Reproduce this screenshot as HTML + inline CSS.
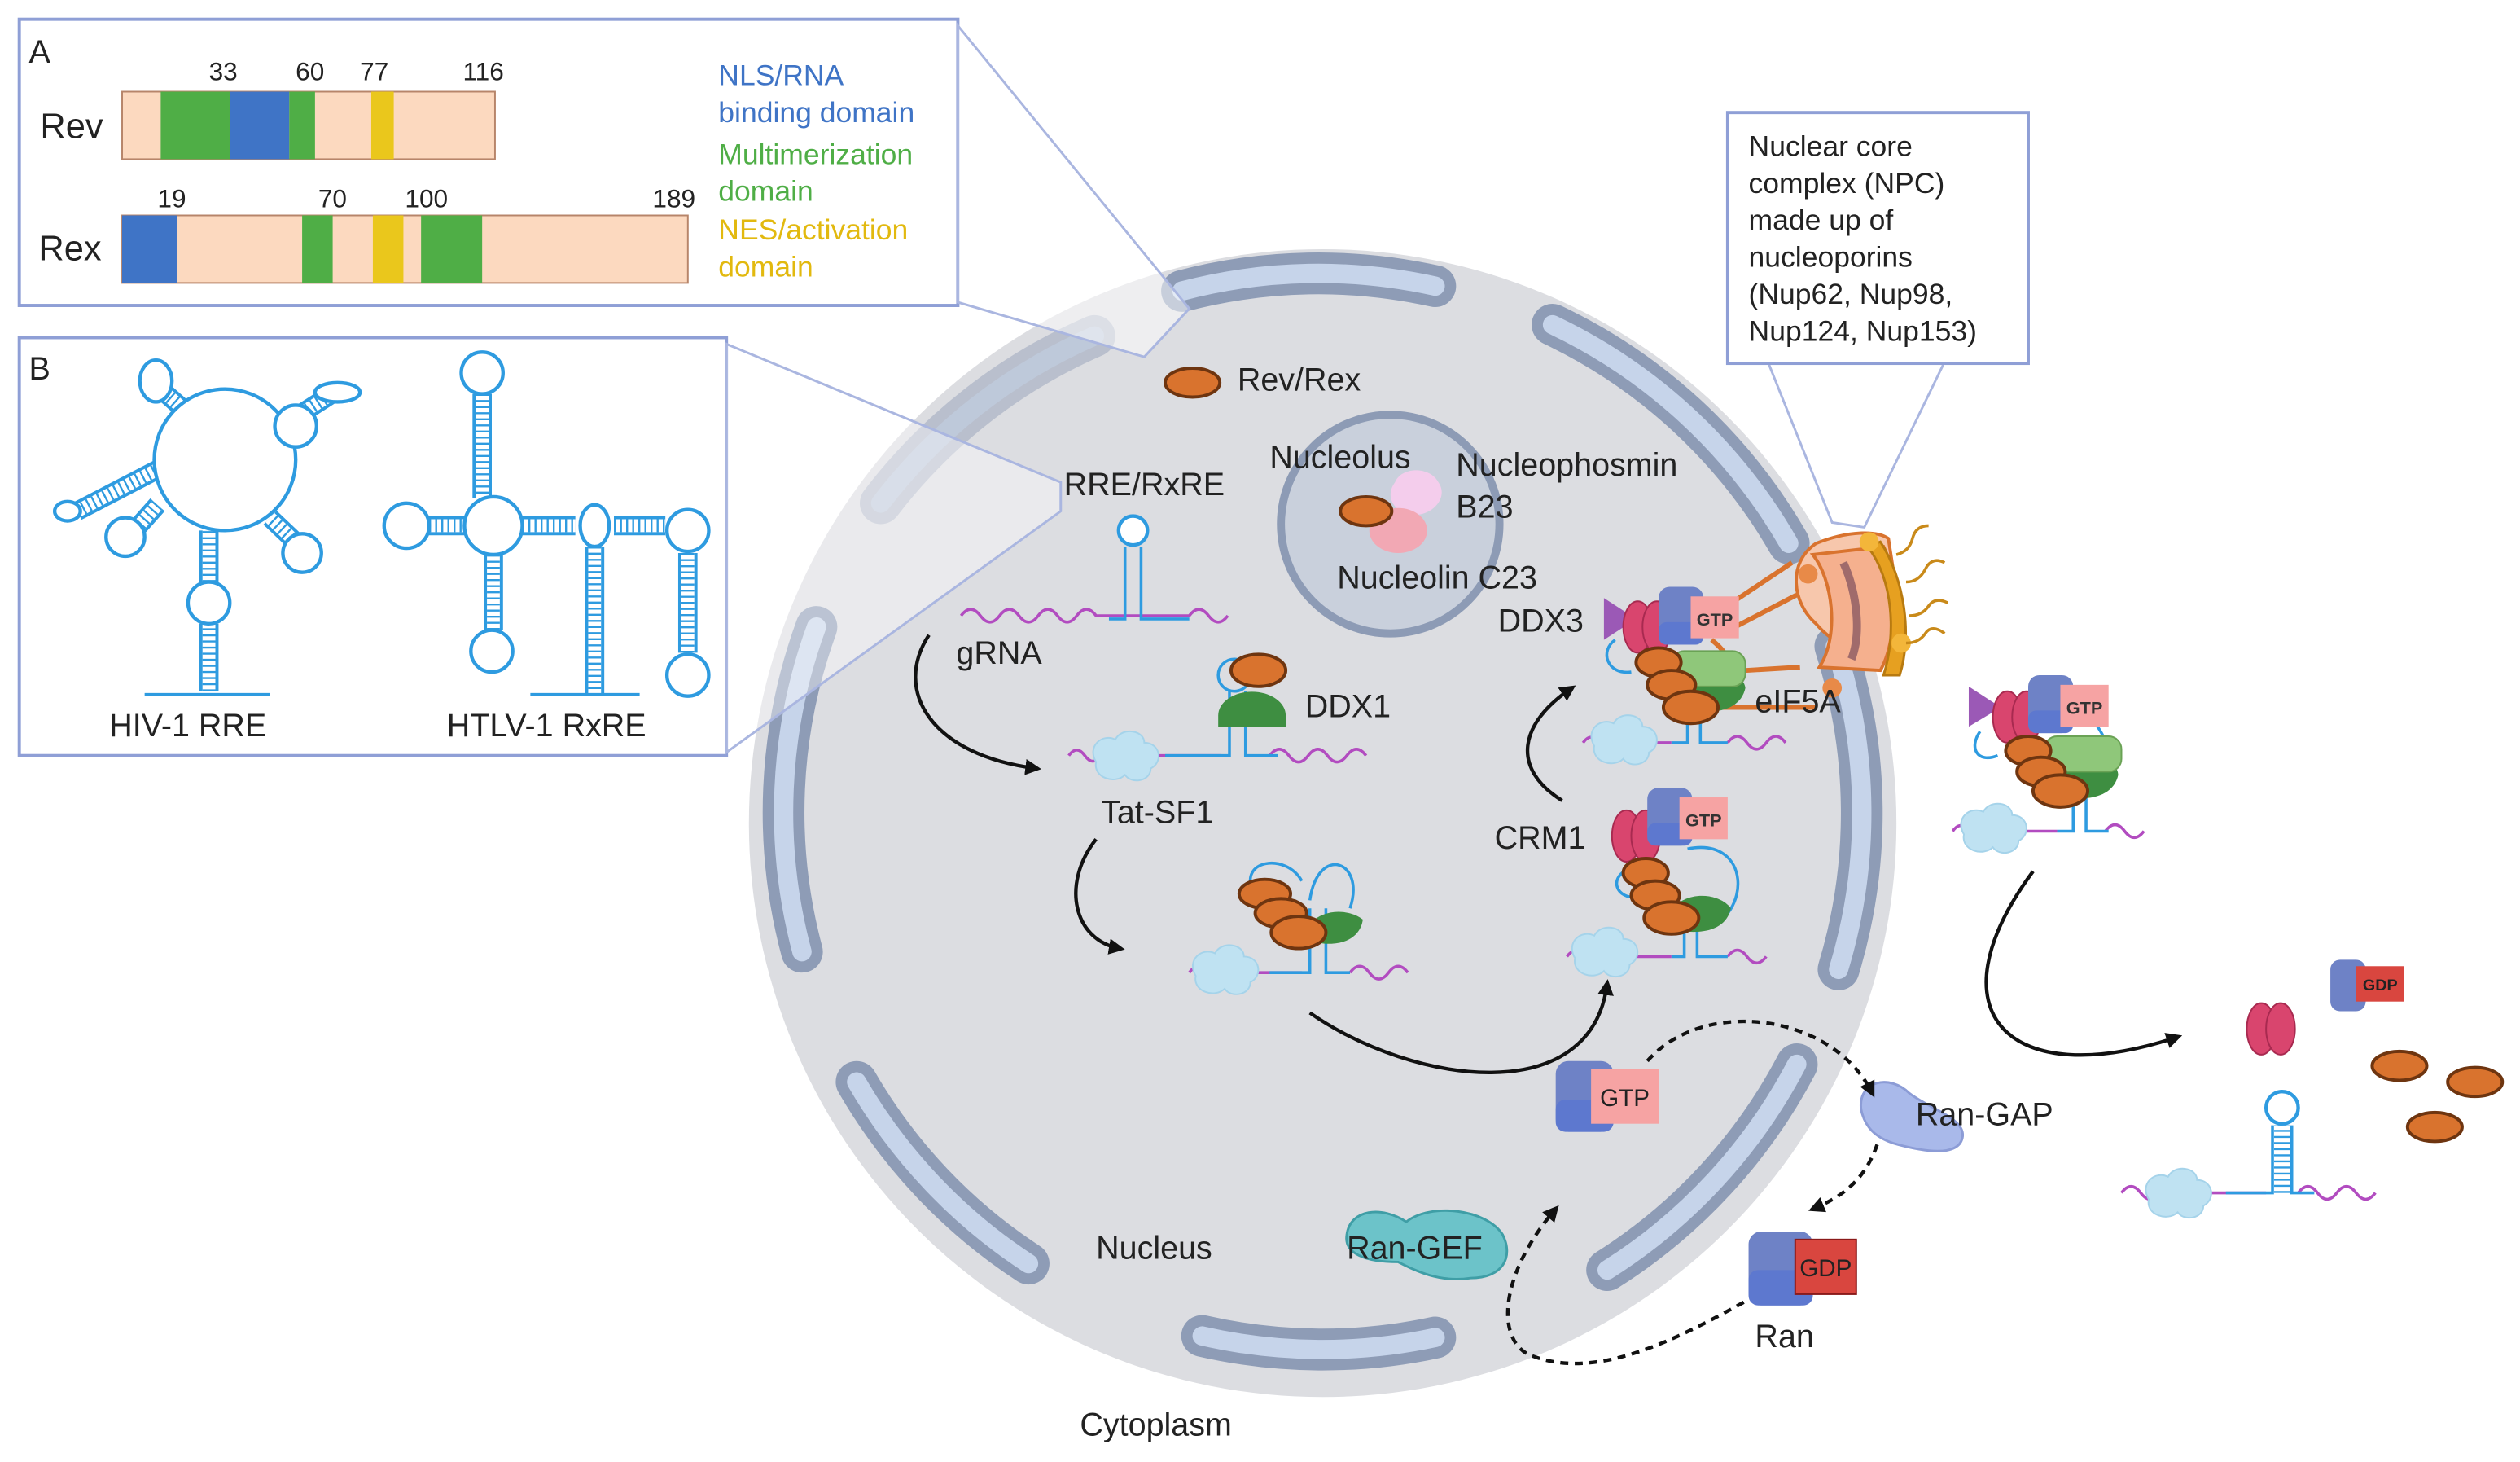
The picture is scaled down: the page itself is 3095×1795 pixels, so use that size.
<!DOCTYPE html>
<html><head><meta charset="utf-8"><style>
html,body{margin:0;padding:0;background:#fff}
svg{display:block}
text{font-family:"Liberation Sans",sans-serif;fill:#222}
.so{fill:none;stroke:#2e9be0;stroke-width:12}
.si{fill:none;stroke:#fff;stroke-width:8}
.sr{fill:none;stroke:#2e9be0;stroke-width:8;stroke-dasharray:1.2 2.6}
.lp{fill:#fff;stroke:#2e9be0;stroke-width:2.2}
.env{fill:none;stroke:#8e9cb6;stroke-width:26;stroke-linecap:round}
.envi{fill:none;stroke:#c6d4ea;stroke-width:12;stroke-linecap:round}
.wave{fill:none;stroke:#b24cc0;stroke-width:1.8}
.bl{fill:none;stroke:#2e9be0;stroke-width:1.8}
.or{fill:#d9732e;stroke:#6e3510;stroke-width:2}
.arr{fill:none;stroke:#111;stroke-width:2.2}
.dash{fill:none;stroke:#111;stroke-width:2.2;stroke-dasharray:5 4}
</style></head><body>
<svg width="3095" height="1795" viewBox="0 0 1568 909.4" preserveAspectRatio="none" xmlns="http://www.w3.org/2000/svg">
<defs>
<marker id="ah" markerWidth="10" markerHeight="10" refX="7" refY="5" orient="auto" markerUnits="userSpaceOnUse"><path d="M0,0 L10,5 L0,10 Z" fill="#111"/></marker>
<g id="cloud"><path d="M-18,4 C-24,-6 -14,-14 -6,-10 C-2,-18 12,-16 12,-8 C22,-8 24,4 16,8 C16,16 4,18 0,12 C-6,18 -20,14 -18,4 Z" fill="#bfe2f2" stroke="#a5d3ea" stroke-width="1"/></g>
<g id="gtp"><rect x="-20" y="-20" width="28" height="36" rx="7" fill="#6e82c6"/><rect x="-20" y="2" width="28" height="14" rx="5" fill="#5d78cf"/><rect x="0" y="-14" width="30" height="26" fill="#f6a3a3"/><text x="15" y="4" font-size="11" text-anchor="middle" font-weight="bold" style="fill:#333">GTP</text></g>
<g id="crm"><ellipse cx="-6" cy="0" rx="9" ry="16" fill="#d9456e" stroke="#a82a50" stroke-width="1"/><ellipse cx="6" cy="0" rx="9" ry="16" fill="#d9456e" stroke="#a82a50" stroke-width="1"/></g>
</defs>

<rect x="12" y="12" width="584" height="178" fill="#fff" stroke="#8f9fd6" stroke-width="2"/>
<text x="18" y="39" font-size="20">A</text>
<text x="25" y="86" font-size="22">Rev</text>
<rect x="76" y="57" width="232" height="42" fill="#fcd9bf" stroke="#b7856a" stroke-width="1"/>
<rect x="100" y="57" width="43" height="42" fill="#4fae46"/>
<rect x="143" y="57" width="37" height="42" fill="#3f74c6"/>
<rect x="180" y="57" width="16" height="42" fill="#4fae46"/>
<rect x="231" y="57" width="14" height="42" fill="#eac71c"/>
<text x="130" y="50" font-size="16">33</text><text x="184" y="50" font-size="16">60</text><text x="224" y="50" font-size="16">77</text><text x="288" y="50" font-size="16">116</text>
<text x="24" y="162" font-size="22">Rex</text>
<rect x="76" y="134" width="352" height="42" fill="#fcd9bf" stroke="#b7856a" stroke-width="1"/>
<rect x="76" y="134" width="34" height="42" fill="#3f74c6"/>
<rect x="188" y="134" width="19" height="42" fill="#4fae46"/>
<rect x="232" y="134" width="19" height="42" fill="#eac71c"/>
<rect x="262" y="134" width="38" height="42" fill="#4fae46"/>
<text x="98" y="129" font-size="16">19</text><text x="198" y="129" font-size="16">70</text><text x="252" y="129" font-size="16">100</text><text x="406" y="129" font-size="16">189</text>
<text x="447" y="53" font-size="18" style="fill:#3f74c6">NLS/RNA</text>
<text x="447" y="76" font-size="18" style="fill:#3f74c6">binding domain</text>
<text x="447" y="102" font-size="18" style="fill:#4fae46">Multimerization</text>
<text x="447" y="125" font-size="18" style="fill:#4fae46">domain</text>
<text x="447" y="149" font-size="18" style="fill:#e2b90f">NES/activation</text>
<text x="447" y="172" font-size="18" style="fill:#e2b90f">domain</text>

<rect x="12" y="210" width="440" height="260" fill="#fff" stroke="#8f9fd6" stroke-width="2"/>
<text x="18" y="236" font-size="20">B</text>

<circle cx="823" cy="512" r="357" fill="#dcdde1"/>
<g>
<path class="env" d="M735.5,181 A335,335 0 0 1 893,178"/>
<path class="env" d="M966,202 A335,335 0 0 1 1113,338"/>
<path class="env" d="M1142,402 A335,335 0 0 1 1144,603"/>
<path class="env" d="M1118,662 A335,335 0 0 1 1000,790"/>
<path class="env" d="M893,832 A335,335 0 0 1 748,831"/>
<path class="env" d="M640,786 A335,335 0 0 1 533,673"/>
<path class="env" d="M499,592 A335,335 0 0 1 508,390"/>
<path class="env" d="M548,313 A335,335 0 0 1 681,209" opacity="0.45"/>
<path class="envi" d="M735.5,181 A335,335 0 0 1 893,178"/>
<path class="envi" d="M966,202 A335,335 0 0 1 1113,338"/>
<path class="envi" d="M1142,402 A335,335 0 0 1 1144,603"/>
<path class="envi" d="M1118,662 A335,335 0 0 1 1000,790"/>
<path class="envi" d="M893,832 A335,335 0 0 1 748,831"/>
<path class="envi" d="M640,786 A335,335 0 0 1 533,673"/>
<path class="envi" d="M499,592 A335,335 0 0 1 508,390"/>
<path class="envi" d="M548,313 A335,335 0 0 1 681,209" opacity="0.45"/>
</g>

<polygon points="596,16 740,192 712,222 596,188" fill="#fff" fill-opacity="0.5" stroke="#aab6e0" stroke-width="1.5"/>
<polygon points="452,214 660,300 660,318 452,468" fill="#fff" fill-opacity="0.4" stroke="#aab6e0" stroke-width="1.5"/>
<polygon points="1100,225 1210,225 1160,328 1140,325" fill="#fff" stroke="#aab6e0" stroke-width="1.5"/>
<rect x="1075" y="70" width="187" height="156" fill="#fff" stroke="#8f9fd6" stroke-width="2"/>
<g font-size="18"><text x="1088" y="97">Nuclear core</text><text x="1088" y="120">complex (NPC)</text><text x="1088" y="143">made up of</text><text x="1088" y="166">nucleoporins</text><text x="1088" y="189">(Nup62, Nup98,</text><text x="1088" y="212">Nup124, Nup153)</text></g>

<g>
<path class="so" d="M130,430 V388 M130,362 V330 M100,242 L118,258 M205,246 L180,262 M48,318 L98,292 M82,332 L98,314 M187,340 L168,322 M300,245 V310 M267,327 H290 M325,327 H358 M382,327 H414 M370,340 V432 M307,345 V392 M428,344 V406"/>
<path class="si" d="M130,430 V388 M130,362 V330 M100,242 L118,258 M205,246 L180,262 M48,318 L98,292 M82,332 L98,314 M187,340 L168,322 M300,245 V310 M267,327 H290 M325,327 H358 M382,327 H414 M370,340 V432 M307,345 V392 M428,344 V406"/>
<path class="sr" d="M130,430 V388 M130,362 V330 M100,242 L118,258 M205,246 L180,262 M48,318 L98,292 M82,332 L98,314 M187,340 L168,322 M300,245 V310 M267,327 H290 M325,327 H358 M382,327 H414 M370,340 V432 M307,345 V392 M428,344 V406"/>
<circle class="lp" cx="140" cy="286" r="44"/>
<circle class="lp" cx="130" cy="375" r="13"/>
<ellipse class="lp" cx="97" cy="237" rx="10" ry="13"/>
<circle class="lp" cx="184" cy="265" r="13"/>
<ellipse class="lp" cx="210" cy="244" rx="14" ry="6"/>
<ellipse class="lp" cx="42" cy="318" rx="8" ry="6"/>
<circle class="lp" cx="78" cy="334" r="12"/>
<circle class="lp" cx="188" cy="344" r="12"/>
<path class="bl" d="M90,432 H168 M330,432 H398"/>
<circle class="lp" cx="300" cy="232" r="13"/>
<circle class="lp" cx="253" cy="327" r="14"/>
<circle class="lp" cx="307" cy="327" r="18"/>
<ellipse class="lp" cx="370" cy="327" rx="9" ry="13"/>
<circle class="lp" cx="428" cy="330" r="13"/>
<circle class="lp" cx="306" cy="405" r="13"/>
<circle class="lp" cx="428" cy="420" r="13"/>
</g>
<text x="68" y="458" font-size="20">HIV-1 RRE</text>
<text x="278" y="458" font-size="20">HTLV-1 RxRE</text>

<circle cx="865" cy="326" r="68" fill="#c9d0dc" stroke="#8d9bb5" stroke-width="5"/>
<path d="M868,300 C872,290 890,290 895,300 C902,310 890,322 878,320 C866,318 862,308 868,300Z" fill="#f4cdec"/>
<ellipse cx="870" cy="330" rx="18" ry="14" fill="#f2a8b4"/>
<ellipse class="or" cx="850" cy="318" rx="16" ry="9"/>
<ellipse class="or" cx="742" cy="238" rx="17" ry="9"/>

<path d="M1158,690 C1156,672 1176,668 1188,680 C1201,690 1224,696 1221,708 C1218,720 1196,716 1181,712 C1166,708 1160,700 1158,690Z" fill="#a9b9ea" stroke="#8c9cd6" stroke-width="1.5"/>
<path d="M838,768 C840,752 860,750 875,760 C890,748 925,752 935,768 C942,782 935,795 915,795 C895,798 880,790 870,785 C850,785 836,780 838,768Z" fill="#6cc3c9" stroke="#3f9ea6" stroke-width="1.5"/>

<g font-size="20">
<text x="770" y="243">Rev/Rex</text>
<text x="662" y="308">RRE/RxRE</text>
<text x="595" y="413">gRNA</text>
<text x="812" y="446">DDX1</text>
<text x="685" y="512">Tat-SF1</text>
<text x="790" y="291">Nucleolus</text>
<text x="906" y="296">Nucleophosmin</text>
<text x="906" y="322">B23</text>
<text x="832" y="366">Nucleolin C23</text>
<text x="932" y="393">DDX3</text>
<text x="930" y="528">CRM1</text>
<text x="1192" y="700">Ran-GAP</text>
<text x="838" y="783">Ran-GEF</text>
<text x="682" y="783">Nucleus</text>
<text x="1092" y="838">Ran</text>
<text x="672" y="893">Cytoplasm</text>
</g>

<path class="wave" d="M598,383 q6,-8 12,0 t12,0 t12,0 t12,0 t12,0 t12,0 t12,0 H740 q6,-8 12,0 t12,0"/>
<path class="bl" d="M690,385 H700 V340 M710,340 V385 H740"/>
<circle class="lp" cx="705" cy="330" r="9"/>

<path class="wave" d="M665,470 q5,-7 10,0 t10,0 H760 M790,470 q6,-8 12,0 t12,0 t12,0 t12,0 t12,0"/>
<path class="bl" d="M725,470 H765 V430 M775,430 V470 H795"/>
<circle class="bl" cx="768" cy="420" r="10"/>
<use href="#cloud" x="700" y="470"/>
<path d="M758,445 A20,14 0 0 1 800,445 V452 H758Z" fill="#3e8e41"/>
<ellipse class="or" cx="783" cy="417" rx="17" ry="10"/>

<path class="wave" d="M740,605 q5,-7 10,0 H810 M840,605 q6,-8 12,0 t12,0 t12,0"/>
<path class="bl" d="M790,605 H815 V565 M825,565 V605 H840"/>
<path class="bl" d="M780,555 C770,535 800,530 810,548 M815,560 C820,525 850,535 840,565"/>
<use href="#cloud" x="762" y="603"/>
<path d="M815,575 A20,14 0 0 1 848,572 C846,586 830,590 815,585Z" fill="#3e8e41"/>
<ellipse class="or" cx="787" cy="556" rx="16" ry="9"/>
<ellipse class="or" cx="797" cy="568" rx="16" ry="9"/>
<ellipse class="or" cx="808" cy="580" rx="17" ry="10"/>

<path class="wave" d="M975,595 q5,-7 10,0 H1040 M1075,595 q6,-8 12,0 t12,0"/>
<path class="bl" d="M1040,595 H1048 V560 M1056,560 V595 H1075 M1050,528 C1090,520 1090,570 1060,578 M1015,540 C1000,545 1005,560 1020,558"/>
<use href="#cloud" x="998" y="592"/>
<path d="M1040,567 A20,14 0 0 1 1077,565 C1074,579 1058,582 1040,578Z" fill="#3e8e41"/>
<use href="#crm" x="1018" y="520"/>
<use href="#gtp" x="1045" y="510"/>
<ellipse class="or" cx="1024" cy="543" rx="14" ry="9"/>
<ellipse class="or" cx="1030" cy="557" rx="15" ry="9"/>
<ellipse class="or" cx="1040" cy="571" rx="17" ry="10"/>

<g>
<path d="M1070,380 L1115,350 M1070,395 L1118,370 M1070,418 L1120,415 M1070,440 L1130,440 M1065,398 C1080,410 1080,420 1070,432" stroke="#d9732e" stroke-width="3" fill="none"/>
<path d="M1130,338 C1150,330 1168,330 1175,335 L1185,400 L1172,410 C1160,410 1140,400 1130,388 C1115,375 1112,350 1130,338Z" fill="#f7c7ac" stroke="#d9732e" stroke-width="2"/>
<path d="M1128,345 C1140,360 1145,395 1132,415 L1170,417 C1180,400 1182,360 1172,340Z" fill="#f5b08e" stroke="#d9732e" stroke-width="2"/>
<path d="M1147,350 C1156,370 1158,395 1152,410" stroke="#a06b6b" stroke-width="5" fill="none"/>
<path d="M1170,337 C1185,360 1190,395 1182,420 L1172,420 C1180,395 1178,360 1162,340Z" fill="#e6a020" stroke="#b87a10" stroke-width="1.5"/>
<circle cx="1125" cy="357" r="6" fill="#e88a48"/><circle cx="1163" cy="337" r="6" fill="#f3b63a"/><circle cx="1183" cy="400" r="6" fill="#f3b63a"/><circle cx="1140" cy="428" r="6" fill="#e88a48"/>
<path d="M1180,345 q8,-2 10,-10 t10,-8 M1186,362 q8,0 12,-8 t12,-4 M1188,383 q8,0 12,-6 t12,-2 M1186,400 q8,0 12,-6 t12,0" stroke="#c98a1a" stroke-width="1.8" fill="none"/>
</g>

<path class="wave" d="M985,462 q5,-7 10,0 H1040 M1075,462 q6,-8 12,0 t12,0 t12,0"/>
<path class="bl" d="M1040,462 H1050 V440 M1058,440 V462 H1075 M1005,398 C995,405 1000,420 1015,418"/>
<use href="#cloud" x="1010" y="460"/>
<polygon points="998,372 998,398 1018,385" fill="#9b59b6"/>
<use href="#crm" x="1025" y="390"/>
<use href="#gtp" x="1052" y="385"/>
<path d="M1045,430 A20,13 0 0 1 1086,428 C1083,442 1066,446 1045,440Z" fill="#3e8e41"/>
<rect x="1040" y="405" width="46" height="22" rx="8" fill="#8fc77a" stroke="#6aa255" stroke-width="1"/>
<ellipse class="or" cx="1032" cy="412" rx="14" ry="9"/>
<ellipse class="or" cx="1040" cy="426" rx="15" ry="9"/>
<ellipse class="or" cx="1052" cy="440" rx="17" ry="10"/>
<text x="1092" y="443" font-size="20">eIF5A</text>

<path class="wave" d="M1215,517 q5,-7 10,0 H1280 M1310,517 q6,-8 12,0 t12,0"/>
<path class="bl" d="M1280,517 H1290 V495 M1298,495 V517 H1312 M1300,445 C1312,460 1315,470 1305,475 M1232,455 C1225,465 1230,475 1243,470"/>
<use href="#cloud" x="1240" y="515"/>
<polygon points="1225,427 1225,452 1245,440" fill="#9b59b6"/>
<use href="#crm" x="1255" y="446"/>
<use href="#gtp" x="1282" y="440"/>
<path d="M1275,483 A20,13 0 0 1 1318,482 C1315,496 1298,500 1275,494Z" fill="#3e8e41"/>
<rect x="1272" y="458" width="48" height="22" rx="8" fill="#8fc77a" stroke="#6aa255" stroke-width="1"/>
<ellipse class="or" cx="1262" cy="467" rx="14" ry="9"/>
<ellipse class="or" cx="1270" cy="480" rx="15" ry="9"/>
<ellipse class="or" cx="1282" cy="492" rx="17" ry="10"/>

<use href="#crm" x="1413" y="640"/>
<rect x="1450" y="597" width="22" height="32" rx="6" fill="#6e82c6"/>
<rect x="1466" y="601" width="30" height="22" fill="#d9463f"/>
<text x="1481" y="616" font-size="10" text-anchor="middle" font-weight="bold">GDP</text>
<ellipse class="or" cx="1493" cy="663" rx="17" ry="9"/>
<ellipse class="or" cx="1540" cy="673" rx="17" ry="9"/>
<ellipse class="or" cx="1515" cy="701" rx="17" ry="9"/>
<path class="wave" d="M1320,742 q6,-8 12,0 t12,0 H1410 M1430,742 q6,-8 12,0 t12,0 t12,0 t12,0"/>
<path class="bl" d="M1385,742 H1414 V700 M1426,700 V742 H1440"/>
<path class="sr" d="M1420,742 V700" style="stroke-width:10"/>
<circle class="lp" cx="1420" cy="689" r="10"/>
<use href="#cloud" x="1355" y="742"/>

<rect x="968" y="660" width="36" height="44" rx="8" fill="#6e82c6"/>
<rect x="968" y="684" width="36" height="20" rx="6" fill="#5d78cf"/>
<rect x="990" y="665" width="42" height="34" fill="#f6a3a3"/>
<text x="1011" y="688" font-size="15" text-anchor="middle">GTP</text>
<rect x="1088" y="766" width="40" height="46" rx="8" fill="#6e82c6"/>
<rect x="1088" y="790" width="40" height="22" rx="6" fill="#5d78cf"/>
<rect x="1117" y="771" width="38" height="34" fill="#d9463f" stroke="#8a1a1a" stroke-width="1"/>
<text x="1136" y="794" font-size="15" text-anchor="middle">GDP</text>

<path class="arr" marker-end="url(#ah)" d="M578,395 C555,430 580,470 645,478"/>
<path class="arr" marker-end="url(#ah)" d="M682,522 C660,550 668,585 697,590"/>
<path class="arr" marker-end="url(#ah)" d="M815,630 C880,675 990,690 1000,612"/>
<path class="arr" marker-end="url(#ah)" d="M972,498 C940,478 945,450 978,428"/>
<path class="arr" marker-end="url(#ah)" d="M1265,542 C1200,630 1250,680 1355,645"/>
<path class="dash" marker-end="url(#ah)" d="M1025,660 C1060,620 1140,630 1165,680"/>
<path class="dash" marker-end="url(#ah)" d="M1168,712 C1160,735 1145,745 1128,752"/>
<path class="dash" marker-end="url(#ah)" d="M1085,810 C1040,835 990,860 950,842 C930,830 935,790 968,752"/>
</svg>
</body></html>
